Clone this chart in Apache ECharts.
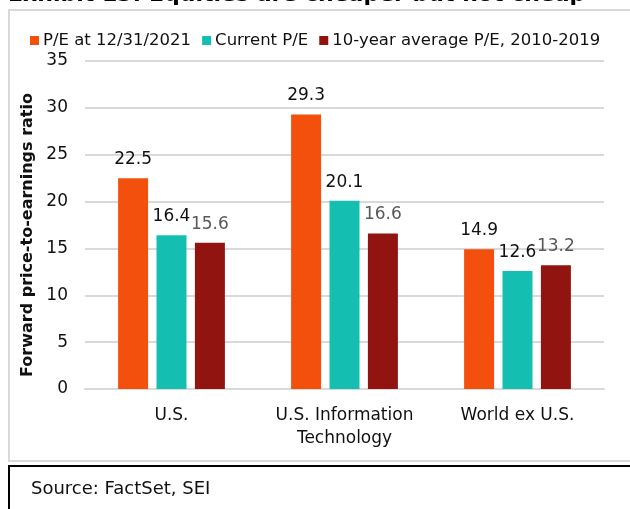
<!DOCTYPE html>
<html>
<head>
<meta charset="utf-8">
<script src="https://cdn.jsdelivr.net/npm/echarts@6/dist/echarts.min.js"></script>
<style>
  html, body { margin: 0; padding: 0; background: #fff; }
  #chart { width: 630px; height: 509px; }
</style>
</head>
<body>
<div id="chart"></div>
<script>
const titleText = 'Exhibit 13: Equities are cheaper but not cheap';
const sourceText = 'Source: FactSet, SEI';
const yAxisName = 'Forward price-to-earnings ratio';
const categories = ['U.S.', 'U.S. Information\nTechnology', 'World ex U.S.'];
const seriesNames = ['P/E at 12/31/2021', 'Current P/E', '10-year average P/E, 2010-2019'];
const pe2021 = [22.5, 29.3, 14.9];
const currentPE = [16.4, 20.1, 12.6];
const avgPE = [15.6, 16.6, 13.2];
const yMin = 0, yMax = 35, yStep = 5;

const FONT = 'DejaVu Sans';
const colors = ['#F2500C', '#14BFB2', '#921411'];
const labelColors = ['#111', '#111', '#595959'];

const chart = echarts.init(document.getElementById('chart'));

function makeSeries(name, data, i) {
  return {
    name: name,
    type: 'bar',
    data: data,
    barWidth: 30,
    barGap: '28%',
    itemStyle: { color: colors[i] },
    label: {
      show: true,
      position: 'top',
      distance: 10,
      fontFamily: FONT,
      fontSize: 17,
      color: labelColors[i],
      formatter: p => Number(p.value).toFixed(1)
    }
  };
}

chart.setOption({
  animation: false,
  textStyle: { fontFamily: FONT },
  graphic: [
    { type: 'rect', z: 0, shape: { x: 9, y: 10, width: 640, height: 451 },
      style: { fill: 'none', stroke: '#d9d9d9', lineWidth: 2 } },
    { type: 'rect', z: 0, shape: { x: 9, y: 466, width: 640, height: 80 },
      style: { fill: 'none', stroke: '#000', lineWidth: 2 } },
    { type: 'text', left: 8, top: -16,
      style: { text: titleText, font: 'bold 22px "DejaVu Sans"', fill: '#000' } },
    { type: 'text', left: 31, top: 480,
      style: { text: sourceText, font: '18px "DejaVu Sans"', fill: '#111' } }
  ],
  legend: {
    left: 25,
    top: 27,
    itemWidth: 9,
    itemHeight: 9,
    itemGap: 11,
    icon: 'rect',
    textStyle: { fontFamily: FONT, fontSize: 16.5, color: '#111', padding: [0, 0, 0, -1] },
    data: seriesNames
  },
  grid: { left: 85, right: 26, top: 61, bottom: 120, containLabel: false },
  xAxis: {
    type: 'category',
    data: categories,
    axisLine: { lineStyle: { color: '#d9d9d9', width: 2 } },
    axisTick: { show: false },
    axisLabel: { interval: 0, fontFamily: FONT, fontSize: 17, color: '#111', margin: 15, lineHeight: 23 }
  },
  yAxis: {
    type: 'value',
    min: yMin, max: yMax, interval: yStep,
    name: yAxisName,
    nameLocation: 'middle',
    nameGap: 49,
    nameTextStyle: { fontFamily: FONT, fontSize: 16, fontWeight: 'bold', color: '#111', padding: [0, 20, 0, 0] },
    axisLine: { show: false },
    axisTick: { show: false },
    axisLabel: { fontFamily: FONT, fontSize: 17, color: '#111', margin: 17 },
    splitLine: { lineStyle: { color: '#d9d9d9', width: 2 } }
  },
  series: [
    makeSeries(seriesNames[0], pe2021, 0),
    makeSeries(seriesNames[1], currentPE, 1),
    makeSeries(seriesNames[2], avgPE, 2)
  ]
});
</script>
</body>
</html>
